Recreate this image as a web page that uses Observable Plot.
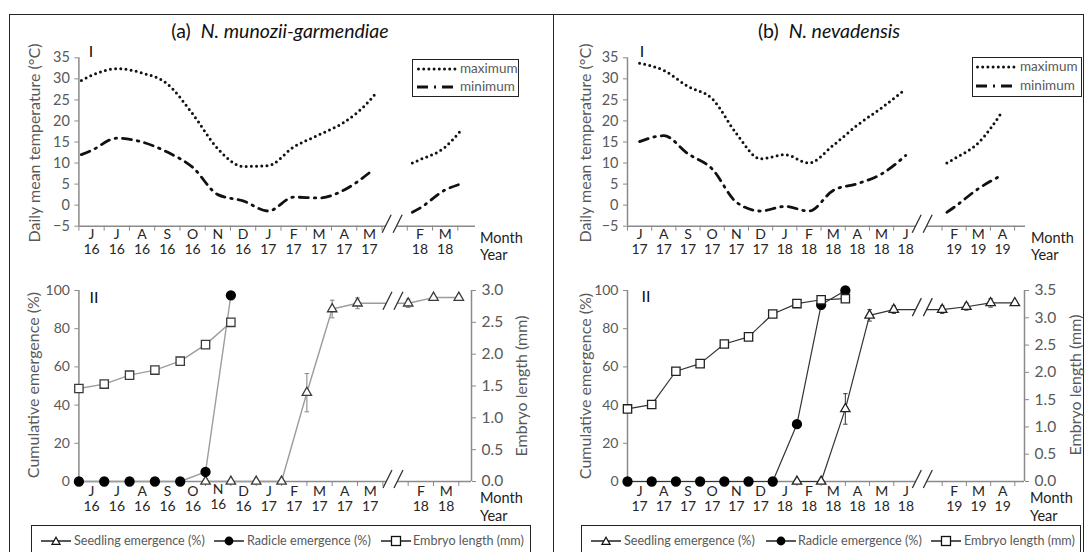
<!DOCTYPE html>
<html><head><meta charset="utf-8">
<script src="https://cdn.jsdelivr.net/npm/d3@7"></script>
<script src="https://cdn.jsdelivr.net/npm/@observablehq/plot@0.6"></script>
<style>
body{margin:0;background:#fff;font-family:Lato,"Open Sans",sans-serif;}
#wrap{position:relative;width:1089px;height:552px;overflow:hidden;background:#fff;}
.plot{position:absolute;}
.c{position:absolute;white-space:nowrap;transform:translate(-50%,-50%);line-height:1;}
.title{font-size:19.5px;color:#111;}
.ytitle{font-size:16px;color:#595959;transform:translate(-50%,-50%) rotate(-90deg);}
.roman{font-size:16px;color:#111;}
.my{position:absolute;font-size:14.5px;color:#222;white-space:nowrap;line-height:17.5px;}
.frame{position:absolute;background:#262626;}
.lbox{position:absolute;border:1.3px solid #222;background:#fff;box-sizing:border-box;}
.ltext{position:absolute;font-size:12.6px;color:#595959;white-space:nowrap;line-height:1;transform:translateY(-50%);}
.lsvg{position:absolute;overflow:visible;}
</style>
</head><body>
<div id="wrap"></div>
<script>
// ---------------- data ----------------
// month tick labels on the broken time axis (slot = month order, slot 12 is the axis break)
const monthsA = ["J","J","A","S","O","N","D","J","F","M","A","M","F","M"];
const yearsA  = ["16","16","16","16","16","16","16","17","17","17","17","17","18","18"];
const slotsA  = [0,1,2,3,4,5,6,7,8,9,10,11,13,14];
const monthsB = ["J","A","S","O","N","D","J","F","M","A","M","J","F","M","A"];
const yearsB  = ["17","17","17","17","17","17","18","18","18","18","18","18","19","19","19"];
const slotsB  = [0,1,2,3,4,5,6,7,8,9,10,11,13,14,15];

// Panel I: daily mean temperature (°C); time in month slots
const tMaxA1 = [0.1,0.5,1.5,2.5,3.5,4.5,5.5,6.5,7.5,8.5,9.5,10.5,11.5,11.7];
const maxA1  = [29.6,30.8,32.4,31.4,28.8,21.7,13.4,9.2,9.4,13.8,16.7,19.7,24.8,26.2];
const tMinA1 = [0.1,0.5,1.5,2.5,3.5,4.5,5.5,6.5,7.5,8.5,9.5,10.5,11.5];
const minA1  = [12.0,13.0,15.9,15.0,12.6,9.0,2.5,1.0,-1.4,1.9,1.7,3.6,7.7];
const tA2    = [13.2,13.5,14.5,15.1];
const maxA2  = [10.0,10.8,13.8,17.6];
const minA2  = [-1.7,-0.7,3.6,5.0];

const tB1    = [0.5,1.5,2.5,3.5,4.5,5.5,6.5,7.5,8.5,9.5,10.5,11.5];
const maxB1  = [33.7,32.0,28.2,25.3,17.0,11.0,12.0,10.0,14.2,19.0,23.1,27.6];
const minB1  = [15.1,16.5,12.2,8.6,0.7,-1.4,-0.3,-1.4,3.5,5.1,7.4,11.8];
const tB2    = [13.2,13.5,14.5,15.5];
const maxB2  = [10.0,11.0,14.8,22.3];
const minB2  = [-1.7,-0.5,3.9,7.2];

// Panel II: emergence (%) and embryo length (mm), sampled at month starts
const radSlotsA  = [0,1,2,3,4,5,6];
const radicleA   = [0,0,0,0,0,5,97.5];
const seedSlotsA = [5,6,7,8,9,10,11,13,14,15];
const seedlingA  = [0,0,0,0,46.5,90.3,93.3,93.3,96.3,96.3];
const seedErrA   = [0,0,0,0,10,4.6,2.8,2.2,0,0];
const embSlotsA  = [0,1,2,3,4,5,6];
const embryoA    = [1.46,1.53,1.67,1.75,1.89,2.15,2.50];

const radSlotsB  = [0,1,2,3,4,5,6,7,8,9];
const radicleB   = [0,0,0,0,0,0,0,30,92.5,100];
const seedSlotsB = [7,8,9,10,11,13,14,15,16];
const seedlingB  = [0,0,38,87,90,90,91.5,93.5,93.5];
const seedErrB   = [0,0,8,3,2,2,1.8,2.2,0];
const embSlotsB  = [0,1,2,3,4,5,6,7,8,9];
const embryoB    = [1.33,1.41,2.02,2.16,2.52,2.65,3.07,3.26,3.33,3.35];

const tempTicks = [-5,0,5,10,15,20,25,30,35];
const pctTicks  = [0,20,40,60,80,100];
const embTicksA = [0,0.5,1,1.5,2,2.5,3];
const embTicksB = [0,0.5,1,1.5,2,2.5,3,3.5];

// ---------------- layout ----------------
const wrap = document.getElementById("wrap");
const AX = "#8a8a8a";
const FONT = "Lato, 'Open Sans', sans-serif";

function add(html){ wrap.insertAdjacentHTML("beforeend", html); }

function breakMark(xv, yvals, color){
  return (index, scales) => {
    const g = d3.create("svg:g");
    const x = scales.x(xv);
    for (const yv of yvals){
      const y = scales.y(yv);
      g.append("path").attr("d",`M${x-10},${y+7}L${x-1},${y-11}L${x+10},${y-11}L${x+1},${y+7}Z`).attr("fill","#fff");
      g.append("path").attr("d",`M${x-10},${y+7}L${x-1},${y-11}M${x+1},${y+7}L${x+10},${y-11}`)
        .attr("stroke",color).attr("stroke-width",1.3).attr("fill","none");
    }
    return g.node();
  };
}

function pts(xs, ys){ return xs.map((x,i)=>({x, y: ys[i]})); }
function labelRows(months, years, slots){ return slots.map((s,i)=>({s: s+0.5, m: months[i], yr: years[i], i})); }

function topPanel(P){
  const labels = labelRows(P.months, P.years, P.slots);
  const ticks = d3.range(0, P.lastSlot+1);
  const dotted = {stroke:"#111", strokeWidth:3, strokeDasharray:"0,5.2", strokeLinecap:"round", curve:"monotone-x"};
  const dashdot = {stroke:"#111", strokeWidth:2.8, strokeDasharray:"9,6,1.5,6", curve:"monotone-x"};
  const svg = Plot.plot({
    width: P.width, height: 230,
    marginLeft: P.x0 - P.left, marginRight: P.left + P.width - P.xEndTop,
    marginTop: 17.3, marginBottom: 44.3,
    x: {domain: [0, P.domTop]}, y: {domain: [-5, 35]},
    style: {fontFamily: FONT, background: "transparent", color: "#595959", overflow: "visible"},
    marks: [
      Plot.ruleY([-5], {stroke: AX, strokeWidth: 1.5}),
      Plot.ruleX([0], {stroke: AX, strokeWidth: 1.5}),
      Plot.axisY({ticks: tempTicks, tickSize: 4, tickPadding: 5, fontSize: 14.5, label: null, stroke: AX}),
      Plot.axisX({ticks: ticks, tickSize: 5, tickFormat: () => "", label: null, stroke: AX}),
      Plot.text(labels, {x: "s", text: "m", frameAnchor: "bottom", dy: 12.5, fontSize: 14, fill: "#262626"}),
      Plot.text(labels, {x: "s", text: "yr", frameAnchor: "bottom", dy: 28, fontSize: 14, fill: "#262626"}),
      Plot.line(pts(P.tMax1, P.max1), {x:"x", y:"y", ...dotted}),
      Plot.line(pts(P.tMax2, P.max2), {x:"x", y:"y", ...dotted}),
      Plot.line(pts(P.tMin1, P.min1), {x:"x", y:"y", ...dashdot}),
      Plot.line(pts(P.t2, P.min2), {x:"x", y:"y", ...dashdot}),
      breakMark(P.brk, [-5], "#333")
    ]
  });
  svg.classList.add("plot");
  svg.style.left = P.left + "px"; svg.style.top = "40px";
  wrap.appendChild(svg);
}

function bottomPanel(P){
  const labels = labelRows(P.months, P.years, P.slots);
  const ticks = d3.range(0, P.lastSlot+1);
  const embMax = P.embTicks[P.embTicks.length-1];
  const rad = pts(P.radSlots, P.radicle);
  const seed = P.seedSlots.map((x,i)=>({x, y: P.seedling[i], e: P.seedErr[i]}));
  const emb = P.embSlots.map((x,i)=>({x, y: P.embryo[i] / embMax * 100}));
  const errs = seed.filter(d => d.e > 0.5);
  const lc = P.lineColor, mc = P.markColor;
  const brkSeedY = P.seedling[P.seedSlots.indexOf(11)];
  const main = labels.filter(d => !(P.liftIndex === d.i));
  const lifted = labels.filter(d => P.liftIndex === d.i);
  const svg = Plot.plot({
    width: P.width, height: 252,
    marginLeft: P.x0 - P.left, marginRight: P.left + P.width - P.xEndBot,
    marginTop: 20, marginBottom: 41,
    x: {domain: [0, P.domBot]}, y: {domain: [0, 100]},
    style: {fontFamily: FONT, background: "transparent", color: "#595959", overflow: "visible"},
    marks: [
      Plot.ruleY([0], {stroke: AX, strokeWidth: 1.5}),
      Plot.ruleX([0, P.domBot], {stroke: AX, strokeWidth: 1.5}),
      Plot.axisY({ticks: pctTicks, tickSize: 4, tickPadding: 5, fontSize: 14, label: null, stroke: AX}),
      Plot.axisY({anchor: "right", ticks: P.embTicks.map(v => v / embMax * 100), tickFormat: p => (p * embMax / 100).toFixed(1),
                  tickSize: 4, tickPadding: 6, fontSize: 15.5, label: null, stroke: AX}),
      Plot.axisX({ticks: ticks, tickSize: 5, tickFormat: () => "", label: null, stroke: AX}),
      Plot.text(main, {x: "s", text: "m", frameAnchor: "bottom", dy: 14, fontSize: 14, fill: "#262626"}),
      Plot.text(main, {x: "s", text: "yr", frameAnchor: "bottom", dy: 29.5, fontSize: 14, fill: "#262626"}),
      Plot.text(lifted, {x: "s", text: "m", frameAnchor: "bottom", dy: 12, fontSize: 14, fill: "#262626"}),
      Plot.text(lifted, {x: "s", text: "yr", frameAnchor: "bottom", dy: 27, fontSize: 13.5, fill: "#262626"}),
      Plot.line(emb, {x:"x", y:"y", stroke: lc, strokeWidth: P.lw}),
      Plot.line(rad, {x:"x", y:"y", stroke: lc, strokeWidth: P.lw}),
      Plot.line(seed, {x:"x", y:"y", stroke: lc, strokeWidth: P.lw}),
      Plot.ruleX(errs, {x:"x", y1: d => d.y - d.e, y2: d => d.y + d.e, stroke: P.errColor, strokeWidth: 1.1}),
      Plot.link(errs, {x1: d => d.x - 0.09, x2: d => d.x + 0.09, y1: d => d.y + d.e, y2: d => d.y + d.e, stroke: P.errColor, strokeWidth: 1.1}),
      Plot.link(errs, {x1: d => d.x - 0.09, x2: d => d.x + 0.09, y1: d => d.y - d.e, y2: d => d.y - d.e, stroke: P.errColor, strokeWidth: 1.1}),
      breakMark(P.brk, [0, brkSeedY], "#333"),
      Plot.dot(seed, {x:"x", y:"y", symbol: "triangle", r: 3.5, fill: "white", stroke: mc, strokeWidth: 1.3}),
      Plot.dot(rad, {x:"x", y:"y", symbol: "circle", r: 4.4, fill: "#000", stroke: "#000"}),
      Plot.dot(emb, {x:"x", y:"y", symbol: "square", r: 4.7, fill: "white", stroke: mc, strokeWidth: 1.3})
    ]
  });
  svg.classList.add("plot");
  svg.style.left = P.left + "px"; svg.style.top = "270px";
  wrap.appendChild(svg);
}

const PA = {left: 0, width: 545, x0: 78.4, xEndTop: 475, xEndBot: 471, domTop: 15.7, domBot: 15.5, lastSlot: 15, brk: 12.42,
  months: monthsA, years: yearsA, slots: slotsA,
  tMax1: tMaxA1, max1: maxA1, tMin1: tMinA1, min1: minA1, tMax2: tA2, max2: maxA2, t2: tA2, min2: minA2,
  radSlots: radSlotsA, radicle: radicleA, seedSlots: seedSlotsA, seedling: seedlingA, seedErr: seedErrA,
  embSlots: embSlotsA, embryo: embryoA, embTicks: embTicksA, lineColor: "#9c9c9c", markColor: "#3a3a3a", errColor: "#8c8c8c", lw: 1.4, liftIndex: 5};
const PB = {left: 545, width: 544, x0: 627, xEndTop: 1025, xEndBot: 1024, domTop: 16.45, domBot: 16.4, lastSlot: 16, brk: 12.2,
  months: monthsB, years: yearsB, slots: slotsB,
  tMax1: tB1, max1: maxB1, tMin1: tB1, min1: minB1, tMax2: tB2, max2: maxB2, t2: tB2, min2: minB2,
  radSlots: radSlotsB, radicle: radicleB, seedSlots: seedSlotsB, seedling: seedlingB, seedErr: seedErrB,
  embSlots: embSlotsB, embryo: embryoB, embTicks: embTicksB, lineColor: "#333", markColor: "#222", errColor: "#444", lw: 1.2, liftIndex: -1};

topPanel(PA); topPanel(PB); bottomPanel(PA); bottomPanel(PB);

// ---------------- frame, titles, legends ----------------
add(`<div class="frame" style="left:8.5px;top:13.5px;width:1075px;height:1.5px"></div>`);
add(`<div class="frame" style="left:8.5px;top:13.5px;width:1.5px;height:560px"></div>`);
add(`<div class="frame" style="left:552.5px;top:13.5px;width:1.5px;height:560px"></div>`);
add(`<div class="frame" style="left:1082.5px;top:13.5px;width:1.5px;height:560px"></div>`);

add(`<div class="c title" style="left:280px;top:31px">(a)&nbsp; <i>N. munozii-garmendiae</i></div>`);
add(`<div class="c title" style="left:829px;top:31px">(b)&nbsp; <i>N. nevadensis</i></div>`);

add(`<div class="c ytitle" style="left:34px;top:143px">Daily mean temperature (°C)</div>`);
add(`<div class="c ytitle" style="left:585px;top:143px">Daily mean temperature (°C)</div>`);
add(`<div class="c ytitle" style="left:33px;top:385px">Cumulative emergence (%)</div>`);
add(`<div class="c ytitle" style="left:585px;top:386px">Cumulative emergence (%)</div>`);
add(`<div class="c ytitle" style="left:521px;top:386px">Embryo length (mm)</div>`);
add(`<div class="c ytitle" style="left:1075px;top:385px">Embryo length (mm)</div>`);

add(`<div class="c roman" style="left:91px;top:51px">I</div>`);
add(`<div class="c roman" style="left:642px;top:51px">I</div>`);
add(`<div class="c roman" style="left:94px;top:297px">II</div>`);
add(`<div class="c roman" style="left:646px;top:296px">II</div>`);

for (const [x, top] of [[480,228.5],[1031,228.5],[480,489],[1030,489]]){
  add(`<div class="my" style="left:${x}px;top:${top}px">Month</div>`);
  add(`<div class="my" style="left:${x}px;top:${top+17.5}px">Year</div>`);
}

// temperature legends
function tempLegend(left, top, w, h, r1, r2, sx, sw, tx){
  add(`<div class="lbox" style="left:${left}px;top:${top}px;width:${w}px;height:${h}px"></div>`);
  add(`<svg class="lsvg" style="left:${sx}px;top:${top+r1-4}px" width="${sw}" height="8"><line x1="1.5" y1="4" x2="${sw}" y2="4" stroke="#111" stroke-width="3" stroke-dasharray="0,5.2" stroke-linecap="round"/></svg>`);
  add(`<svg class="lsvg" style="left:${sx}px;top:${top+r2-4}px" width="${sw}" height="8"><line x1="0" y1="4" x2="${sw}" y2="4" stroke="#111" stroke-width="2.8" stroke-dasharray="11,6,2,6"/></svg>`);
  add(`<div class="ltext" style="left:${tx}px;top:${top+r1}px;font-size:13.5px">maximum</div>`);
  add(`<div class="ltext" style="left:${tx}px;top:${top+r2}px;font-size:13.5px">minimum</div>`);
}
tempLegend(412, 59, 107, 38, 9.5, 28, 417, 38, 460);
tempLegend(972, 57, 110, 40, 10, 28.5, 976, 40, 1020);

// emergence legends
function sample(x, y, kind){
  let m = "";
  if (kind === "tri") m = `<path d="M15,2.3L19,9.3L11,9.3Z" fill="#fff" stroke="#111" stroke-width="1.3"/>`;
  if (kind === "dot") m = `<circle cx="15" cy="6" r="4.4" fill="#000"/>`;
  if (kind === "sq") m = `<rect x="10.5" y="1.5" width="9" height="9" fill="#fff" stroke="#111" stroke-width="1.3"/>`;
  add(`<svg class="lsvg" style="left:${x}px;top:${y-6}px" width="30" height="12"><line x1="0" y1="6" x2="30" y2="6" stroke="#111" stroke-width="1.4"/>${m}</svg>`);
}
function emLegend(left, right, items){
  add(`<div class="lbox" style="left:${left}px;top:525px;width:${right-left}px;height:40px"></div>`);
  for (const [sx, tx, kind, text] of items){
    sample(sx, 541, kind);
    add(`<div class="ltext" style="left:${tx}px;top:541px">${text}</div>`);
  }
}
emLegend(31, 531, [[41,74,"tri","Seedling emergence (%)"],[214,247,"dot","Radicle emergence (%)"],[381,413,"sq","Embryo length (mm)"]]);
emLegend(581, 1081, [[591,624,"tri","Seedling emergence (%)"],[766,798,"dot","Radicle emergence (%)"],[931,964,"sq","Embryo length (mm)"]]);
</script>
</body></html>
